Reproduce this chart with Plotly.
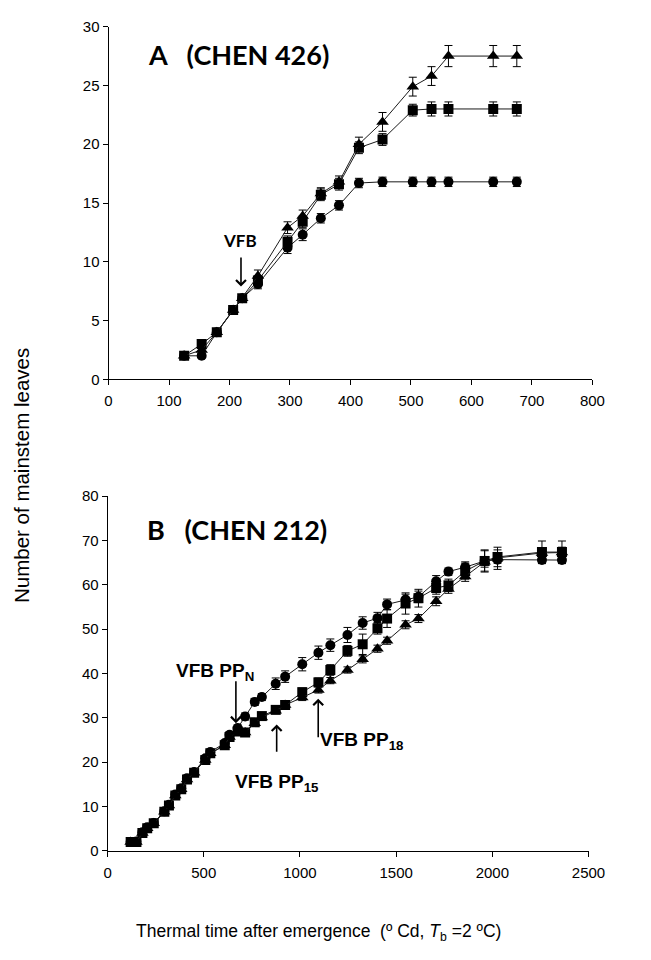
import plotly.graph_objects as go

# ---------------- Panel A (CHEN 426) ----------------
a_x = [125, 154, 179, 206, 221, 247, 296, 321, 351, 381, 414, 453, 503, 534, 562, 636, 675]
a_tri = [2.0, 2.5, 4.0, 5.9, 6.9, 8.8, 12.9, 13.9, 15.8, 16.8, 20.0, 21.9, 24.9, 25.8, 27.5, 27.5, 27.5]
a_tri_err = [0.2, 0.3, 0.3, 0.3, 0.3, 0.5, 0.5, 0.5, 0.5, 0.5, 0.6, 0.8, 0.8, 0.8, 0.9, 0.9, 0.9]
a_sq = [2.0, 3.0, 4.0, 5.9, 6.9, 8.4, 11.7, 13.4, 15.7, 16.6, 19.7, 20.4, 22.9, 23.0, 23.0, 23.0, 23.0]
a_sq_err = [0.2, 0.3, 0.3, 0.3, 0.3, 0.4, 0.5, 0.5, 0.5, 0.5, 0.5, 0.5, 0.5, 0.6, 0.6, 0.6, 0.6]
a_circ = [2.0, 2.0, 4.0, 5.9, 6.9, 8.1, 11.2, 12.3, 13.7, 14.8, 16.7, 16.8, 16.8, 16.8, 16.8, 16.8, 16.8]
a_circ_err = [0.2, 0.2, 0.3, 0.3, 0.3, 0.4, 0.5, 0.5, 0.4, 0.4, 0.4, 0.4, 0.4, 0.4, 0.4, 0.4, 0.4]

# ---------------- Panel B (CHEN 212) ----------------
b_x = [120, 150, 181, 206, 240, 295, 319, 352, 383, 413, 450, 508, 534, 609, 634, 676,
       715, 765, 802, 874, 923, 1012, 1096, 1158, 1247, 1326, 1403, 1453, 1549, 1616,
       1708, 1772, 1859, 1960, 2027, 2258, 2362]
b_circ = [2.0, 2.1, 4.2, 5.3, 6.3, 8.9, 10.4, 12.7, 14.1, 16.4, 17.8, 20.9, 22.3, 24.3, 26.2, 27.7,
          30.3, 33.6, 34.7, 37.7, 39.3, 42.1, 44.7, 46.4, 48.7, 51.4, 52.5, 55.6, 56.7, 57.3,
          60.8, 63.0, 64.0, 65.4, 65.7, 65.6, 65.6]
b_circ_err = [0.3, 0.3, 0.3, 0.3, 0.4, 0.4, 0.4, 0.5, 0.5, 0.5, 0.5, 0.6, 0.6, 0.6, 0.6, 0.7,
              0.8, 0.8, 0.8, 1.3, 1.3, 1.5, 1.5, 1.4, 1.7, 1.4, 1.3, 1.2, 1.2, 1.3,
              1.3, 0.8, 1.2, 2.3, 2.2, 0.8, 0.8]
b_sq = [2.0, 2.0, 4.0, 5.1, 6.2, 8.8, 10.2, 12.5, 13.9, 16.1, 17.6, 20.5, 22.0, 23.8, 25.7, 26.9,
        26.7, 29.0, 30.4, 31.8, 32.9, 35.8, 38.0, 40.8, 45.1, 46.6, 50.2, 52.4, 55.8, 57.0,
        59.3, 59.9, 63.1, 65.4, 66.3, 67.4, 67.4]
b_sq_err = [0.3, 0.3, 0.3, 0.3, 0.4, 0.4, 0.4, 0.5, 0.5, 0.5, 0.5, 0.6, 0.6, 0.6, 0.6, 0.7,
            0.7, 0.7, 0.8, 0.8, 0.8, 0.9, 1.0, 1.2, 1.2, 2.3, 1.3, 2.0, 2.4, 2.0,
            1.4, 1.4, 1.8, 2.5, 2.2, 2.5, 2.5]
b_tri = [2.0, 2.0, 4.0, 5.1, 6.2, 8.8, 10.2, 12.5, 13.9, 16.1, 17.6, 20.5, 22.0, 23.8, 25.7, 26.8,
         26.7, 28.8, 30.1, 31.6, 32.9, 34.6, 36.3, 38.4, 40.8, 43.2, 45.6, 47.4, 51.0, 52.4,
         56.3, 59.1, 61.9, 65.2, 66.1, 67.2, 67.3]
b_tri_err = [0.3, 0.3, 0.3, 0.3, 0.4, 0.4, 0.4, 0.5, 0.5, 0.5, 0.5, 0.6, 0.6, 0.6, 0.6, 0.6,
             0.6, 0.6, 0.6, 0.6, 0.6, 0.7, 0.7, 0.7, 0.7, 0.8, 0.8, 0.8, 0.9, 0.9,
             1.0, 1.0, 1.1, 1.2, 1.2, 1.2, 1.2]

A_TICKS_X = [0, 100, 200, 300, 400, 500, 600, 700, 800]
A_TICKS_Y = [0, 5, 10, 15, 20, 25, 30]
B_TICKS_X = [0, 500, 1000, 1500, 2000, 2500]
B_TICKS_Y = [0, 10, 20, 30, 40, 50, 60, 70, 80]

BLACK = "#000000"
ARIAL = "Liberation Sans, Arial, sans-serif"
TICKFONT = dict(family=ARIAL, size=15, color=BLACK)

fig = go.Figure()


def add_series(x, y, err, symbol, size, xa, ya):
    fig.add_trace(go.Scatter(
        x=x, y=y, xaxis=xa, yaxis=ya, mode="lines+markers",
        line=dict(color="#1a1a1a", width=1),
        marker=dict(symbol=symbol, size=size, color=BLACK),
        error_y=dict(type="data", array=err, visible=True, color=BLACK, thickness=1, width=4),
        showlegend=False, hoverinfo="skip",
    ))


add_series(a_x, a_circ, a_circ_err, "circle", 10, "x", "y")
add_series(a_x, a_sq, a_sq_err, "square", 10, "x", "y")
add_series(a_x, a_tri, a_tri_err, "triangle-up", 11, "x", "y")

add_series(b_x, b_circ, b_circ_err, "circle", 10, "x2", "y2")
add_series(b_x, b_sq, b_sq_err, "square", 10, "x2", "y2")
add_series(b_x, b_tri, b_tri_err, "triangle-up", 11, "x2", "y2")

axis_common = dict(showgrid=False, zeroline=False, showline=True, linecolor=BLACK, linewidth=1,
                   ticks="outside", ticklen=5, tickwidth=1, tickcolor=BLACK, tickfont=TICKFONT)

fig.update_layout(
    width=651, height=960, margin=dict(l=0, r=0, t=0, b=0),
    paper_bgcolor="white", plot_bgcolor="white",
    xaxis=dict(domain=[0.1659, 0.934], range=[0, 800], tickvals=A_TICKS_X, anchor="y",
               ticklabelstandoff=3, **axis_common),
    yaxis=dict(domain=[0.6073, 0.98125], range=[0, 30], tickvals=A_TICKS_Y, anchor="x", **axis_common),
    xaxis2=dict(domain=[0.1644, 0.9278], range=[0, 2500], tickvals=B_TICKS_X, anchor="y2",
                ticklabelstandoff=3, **axis_common),
    yaxis2=dict(domain=[0.1073, 0.4833], range=[0, 80], tickvals=B_TICKS_Y, anchor="x2", **axis_common),
)

LABEL_FONT = dict(family="Lato, Open Sans, sans-serif", size=27, color=BLACK)
VFB_FONT = dict(family=ARIAL, size=19, color=BLACK)

ann = []
ann.append(dict(xref="x", yref="y", x=62, y=27.6, text="<b>A\u00a0\u00a0\u00a0(CHEN 426)</b>",
                showarrow=False, xanchor="left", yanchor="middle", font=LABEL_FONT))
ann.append(dict(xref="x2", yref="y2", x=195, y=72.6, text="<b>B\u00a0\u00a0\u00a0(CHEN 212)</b>",
                showarrow=False, xanchor="left", yanchor="middle", font=LABEL_FONT))

# VFB arrow panel A
ann.append(dict(xref="x", yref="y", x=217, y=11.8, text="<b>VFB</b>", showarrow=False,
                font=dict(family="Lato, Open Sans, sans-serif", size=17, color=BLACK)))
ann.append(dict(xref="x", yref="y", axref="x", ayref="y", x=219, y=7.9, ax=219, ay=10.5,
                text="", showarrow=True, arrowhead=4, arrowsize=1.2, arrowwidth=1.6, arrowcolor=BLACK))

# VFB arrows panel B
ann.append(dict(xref="x2", yref="y2", x=557, y=40.3, text="<b>VFB PP<sub>N</sub></b>", showarrow=False,
                font=VFB_FONT))
ann.append(dict(xref="x2", yref="y2", axref="x2", ayref="y2", x=667, y=28.8, ax=667, ay=38.6,
                text="", showarrow=True, arrowhead=4, arrowsize=1.2, arrowwidth=1.6, arrowcolor=BLACK))

ann.append(dict(xref="x2", yref="y2", x=880, y=15.2, text="<b>VFB PP<sub>15</sub></b>", showarrow=False,
                font=VFB_FONT))
ann.append(dict(xref="x2", yref="y2", axref="x2", ayref="y2", x=879, y=28.5, ax=879, ay=22.0,
                text="", showarrow=True, arrowhead=4, arrowsize=1.2, arrowwidth=1.6, arrowcolor=BLACK))

ann.append(dict(xref="x2", yref="y2", x=1320, y=24.7, text="<b>VFB PP<sub>18</sub></b>", showarrow=False,
                font=VFB_FONT))
ann.append(dict(xref="x2", yref="y2", axref="x2", ayref="y2", x=1095, y=34.3, ax=1095, ay=25.3,
                text="", showarrow=True, arrowhead=4, arrowsize=1.2, arrowwidth=1.6, arrowcolor=BLACK))

# Axis titles (shared)
ann.append(dict(xref="paper", yref="paper", x=18 / 651, y=1 - 475 / 960, text="Number of mainstem leaves",
                textangle=-90, showarrow=False, xanchor="center", yanchor="middle",
                font=dict(family=ARIAL, size=20.5, color=BLACK)))
ann.append(dict(xref="paper", yref="paper", x=325 / 651, y=1 - 940 / 960,
                text="Thermal time after emergence\u00a0 (\u00ba Cd, <i>T</i><sub>b</sub> =2 \u00baC)",
                showarrow=False, xanchor="center", yanchor="middle",
                font=dict(family=ARIAL, size=17.5, color=BLACK)))

fig.update_layout(annotations=ann)
fig.write_html("out.html", config={"displayModeBar": False},
               post_script="document.body.style.margin='0';document.body.style.overflow='hidden';")
